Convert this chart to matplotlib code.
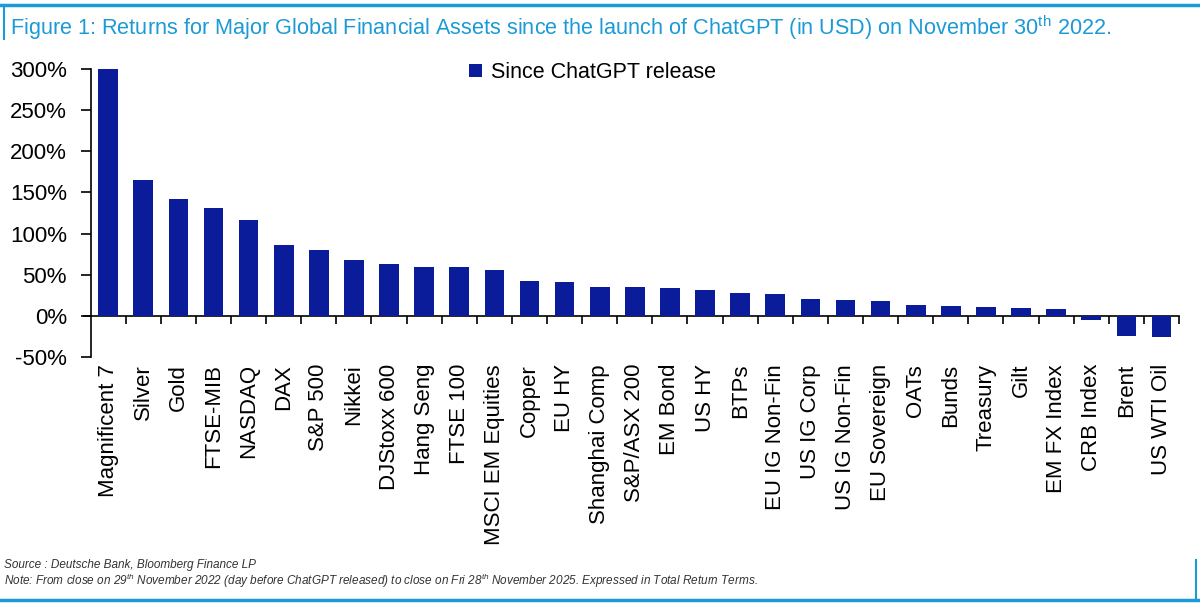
import numpy as np
import matplotlib
matplotlib.use("Agg")
import matplotlib.pyplot as plt
from matplotlib.ticker import FuncFormatter
from matplotlib.lines import Line2D

plt.rcParams['font.family'] = ['Liberation Sans', 'DejaVu Sans']
plt.rcParams['axes.unicode_minus'] = False
plt.rcParams['mathtext.fontset'] = 'custom'
plt.rcParams['mathtext.rm'] = 'Liberation Sans'
plt.rcParams['mathtext.it'] = 'Liberation Sans:italic'

assets = ['Magnificent 7', 'Silver', 'Gold', 'FTSE-MIB', 'NASDAQ', 'DAX', 'S&P 500',
          'Nikkei', 'DJStoxx 600', 'Hang Seng', 'FTSE 100', 'MSCI EM Equities',
          'Copper', 'EU HY', 'Shanghai Comp', 'S&P/ASX 200', 'EM Bond', 'US HY',
          'BTPs', 'EU IG Non-Fin', 'US IG Corp', 'US IG Non-Fin', 'EU Sovereign',
          'OATs', 'Bunds', 'Treasury', 'Gilt', 'EM FX Index', 'CRB Index', 'Brent',
          'US WTI Oil']
returns = [300, 165.5, 142, 131.5, 117, 86, 80.5, 68, 63.5, 59, 59, 55.5,
           42.5, 41.5, 35.5, 34.5, 33.5, 31, 27.5, 26.5, 20.5, 19.5, 18,
           13.5, 12.5, 11, 9.5, 8.5, -5, -24, -25.5]
yticks = [-50, 0, 50, 100, 150, 200, 250, 300]

bar_col = '#0a1c9a'
blue = '#1b9ad6'

fig = plt.figure(figsize=(12, 6.05), dpi=100)
ax = fig.add_axes([0.0755, 0.410, 0.907, 0.476])

x = np.arange(len(assets))
ax.bar(x, returns, width=0.56, color=bar_col, label='Since ChatGPT release', zorder=2)

ax.set_xlim(-0.5, len(assets) - 0.5)
ax.set_ylim(-50, 300)
ax.set_yticks(yticks)
ax.yaxis.set_major_formatter(FuncFormatter(lambda v, p: f'{v:.0f}%'))
ax.tick_params(axis='y', labelsize=16, length=7, width=1.2, direction='out', pad=10)

ax.set_xticks(x)
ax.set_xticklabels(assets, rotation=90, fontsize=16)
ax.tick_params(axis='x', length=0, pad=5)

for s in ['top', 'right', 'bottom']:
    ax.spines[s].set_visible(False)
ax.spines['left'].set_linewidth(1.2)

# zero line with category-boundary ticks
sec = ax.secondary_xaxis(50 / 350)
sec.set_xticks(np.arange(len(assets)) + 0.5)
sec.set_xticklabels([])
sec.tick_params(length=6, width=1.2, direction='out')
sec.spines['bottom'].set_linewidth(1.2)
sec.spines['bottom'].set_bounds(-0.7, len(assets) - 0.5)

ax.legend(loc='center left', bbox_to_anchor=(0.33, 0.988), frameon=False, fontsize=15.5,
          handlelength=0.6, handleheight=0.6, handletextpad=0.4)

fig.text(0.008, 0.955, 'Figure 1: Returns for Major Global Financial Assets since the launch '
         'of ChatGPT (in USD) on November 30$^{\\mathrm{th}}$ 2022.',
         color=blue, fontsize=15.6, va='center', ha='left')
fig.text(0.003, 0.066, 'Source : Deutsche Bank, Bloomberg Finance LP',
         style='italic', fontsize=8.5, color='#333333', va='center')
fig.text(0.003, 0.040, 'Note: From close on 29$^{\\mathit{th}}$ November 2022 (day before ChatGPT '
         'released) to close on Fri 28$^{\\mathit{th}}$ November 2025. Expressed in Total Return Terms.',
         style='italic', fontsize=8.5, color='#333333', va='center')

# frame lines
fig.add_artist(Line2D([0, 1], [0.992, 0.992], color=blue, lw=2.5, transform=fig.transFigure))
fig.add_artist(Line2D([0.003, 0.003], [0.992, 0.935], color=blue, lw=1.5, transform=fig.transFigure))
fig.add_artist(Line2D([0, 1], [0.008, 0.008], color=blue, lw=2.5, transform=fig.transFigure))
fig.add_artist(Line2D([0.997, 0.997], [0.008, 0.075], color=blue, lw=1.5, transform=fig.transFigure))

fig.savefig('out.png', dpi=100)
